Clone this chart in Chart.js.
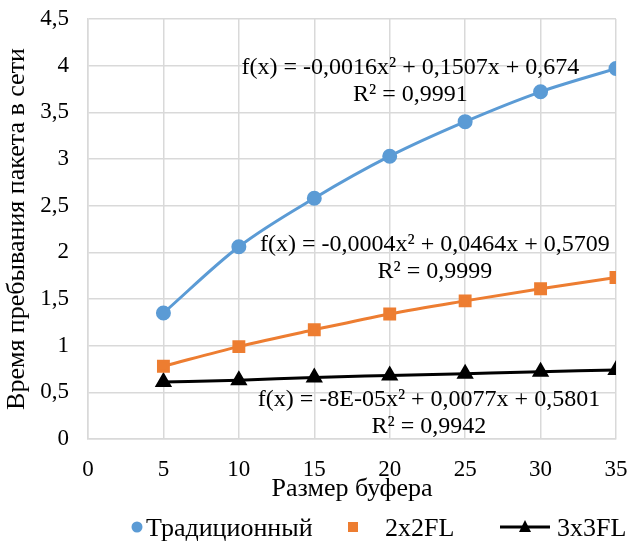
<!DOCTYPE html>
<html>
<head>
<meta charset="utf-8">
<script src="https://cdn.jsdelivr.net/npm/chart.js"></script>
<style>
  html, body { margin: 0; padding: 0; background: #fff; }
</style>
</head>
<body>
<canvas id="chart" width="632" height="545"></canvas>
<script>
  // values
  const bufferSizes = [5, 10, 15, 20, 25, 30, 35];
  const traditional = [1.35, 2.06, 2.58, 3.03, 3.40, 3.72, 3.97];
  const fl2x2 = [0.78, 0.99, 1.17, 1.34, 1.48, 1.61, 1.73];
  const fl3x3 = [0.61, 0.63, 0.66, 0.68, 0.70, 0.72, 0.74];
  const seriesNames = ["Традиционный", "2x2FL", "3x3FL"];
  const seriesColors = ["#5b9bd5", "#ed7d31", "#000000"];
  const equations = [
    ["f(x) = -0,0016x² + 0,1507x + 0,674", "R² = 0,9991"],
    ["f(x) = -0,0004x² + 0,0464x + 0,5709", "R² = 0,9999"],
    ["f(x) = -8E-05x² + 0,0077x + 0,5801", "R² = 0,9942"]
  ];
  // where each equation label sits, in axis units
  const eqAnchors = [[21.37, 3.98], [23.0, 2.08], [22.6, 0.42]];

  const FONT = "'Liberation Serif', serif";
  Chart.defaults.font.family = FONT;
  Chart.defaults.font.size = 23;
  Chart.defaults.color = "#000";

  function points(ys) {
    return bufferSizes.map((x, i) => ({ x: x, y: ys[i] }));
  }

  const equationLabels = {
    id: "equationLabels",
    afterDatasetsDraw(chart) {
      const ctx = chart.ctx;
      const xs = chart.scales.x, ys = chart.scales.y;
      ctx.save();
      ctx.font = "24px " + FONT;
      ctx.fillStyle = "#000";
      ctx.textAlign = "center";
      ctx.textBaseline = "middle";
      equations.forEach((lines, i) => {
        const px = xs.getPixelForValue(eqAnchors[i][0]);
        const py = ys.getPixelForValue(eqAnchors[i][1]);
        lines.forEach((t, j) => ctx.fillText(t, px, py + j * 27));
      });
      ctx.restore();
    }
  };

  const bottomLegend = {
    id: "bottomLegend",
    afterDraw(chart) {
      const ctx = chart.ctx;
      const base = 536, mid = 527;
      ctx.save();
      ctx.font = "26px " + FONT;
      ctx.textBaseline = "alphabetic";
      ctx.textAlign = "left";
      // circle marker
      ctx.fillStyle = seriesColors[0];
      ctx.beginPath();
      ctx.arc(137, mid, 5.5, 0, Math.PI * 2);
      ctx.fill();
      ctx.fillStyle = "#000";
      ctx.fillText(seriesNames[0], 146, base);
      // square marker
      ctx.fillStyle = seriesColors[1];
      ctx.fillRect(348, mid - 5, 10, 10);
      ctx.fillStyle = "#000";
      ctx.fillText(seriesNames[1], 385, base);
      // line with triangle
      ctx.strokeStyle = seriesColors[2];
      ctx.lineWidth = 3;
      ctx.beginPath();
      ctx.moveTo(500, mid);
      ctx.lineTo(550, mid);
      ctx.stroke();
      ctx.fillStyle = seriesColors[2];
      ctx.beginPath();
      ctx.moveTo(525, mid - 7);
      ctx.lineTo(531, mid + 5);
      ctx.lineTo(519, mid + 5);
      ctx.closePath();
      ctx.fill();
      ctx.fillStyle = "#000";
      ctx.fillText(seriesNames[2], 557, base);
      ctx.restore();
    }
  };

  const ctx = document.getElementById("chart").getContext("2d");
  new Chart(ctx, {
    type: "line",
    data: {
      datasets: [
        {
          label: seriesNames[0],
          data: points(traditional),
          borderColor: seriesColors[0],
          backgroundColor: seriesColors[0],
          borderWidth: 3,
          pointStyle: "circle",
          pointRadius: 6,
          cubicInterpolationMode: "monotone"
        },
        {
          label: seriesNames[1],
          data: points(fl2x2),
          borderColor: seriesColors[1],
          backgroundColor: seriesColors[1],
          borderWidth: 3,
          pointStyle: "rect",
          pointRadius: 7,
          cubicInterpolationMode: "monotone"
        },
        {
          label: seriesNames[2],
          data: points(fl3x3),
          borderColor: seriesColors[2],
          backgroundColor: seriesColors[2],
          borderWidth: 3,
          pointStyle: "triangle",
          pointRadius: 7,
          cubicInterpolationMode: "monotone"
        }
      ]
    },
    options: {
      responsive: false,
      animation: false,
      layout: { padding: { top: 19, right: 16, left: 0, bottom: 40 } },
      plugins: {
        legend: { display: false },
        tooltip: { enabled: false }
      },
      scales: {
        x: {
          type: "linear",
          min: 0,
          max: 35,
          afterFit(scale) {
            scale.height = 66;
            scale.paddingLeft = 0;
            scale.paddingRight = 0;
          },
          grid: { color: "#d9d9d9", lineWidth: 1.5, drawTicks: false },
          border: { color: "#d9d9d9", width: 1.5 },
          ticks: { stepSize: 5, padding: 17 },
          title: {
            display: true,
            text: "Размер буфера",
            font: { size: 26 },
            padding: { top: 0, bottom: 0 }
          }
        },
        y: {
          min: 0,
          max: 4.5,
          afterFit(scale) {
            scale.width = 88;
            scale.paddingTop = 0;
            scale.paddingBottom = 0;
          },
          grid: { color: "#d9d9d9", lineWidth: 1.5, drawTicks: false },
          border: { color: "#d9d9d9", width: 1.5 },
          ticks: {
            stepSize: 0.5,
            padding: 19,
            callback: v => String(v).replace(".", ",")
          },
          title: {
            display: true,
            text: "Время пребывания пакета в сети",
            font: { size: 26 },
            padding: { top: 2, bottom: 0 }
          }
        }
      }
    },
    plugins: [equationLabels, bottomLegend]
  });
</script>
</body>
</html>
